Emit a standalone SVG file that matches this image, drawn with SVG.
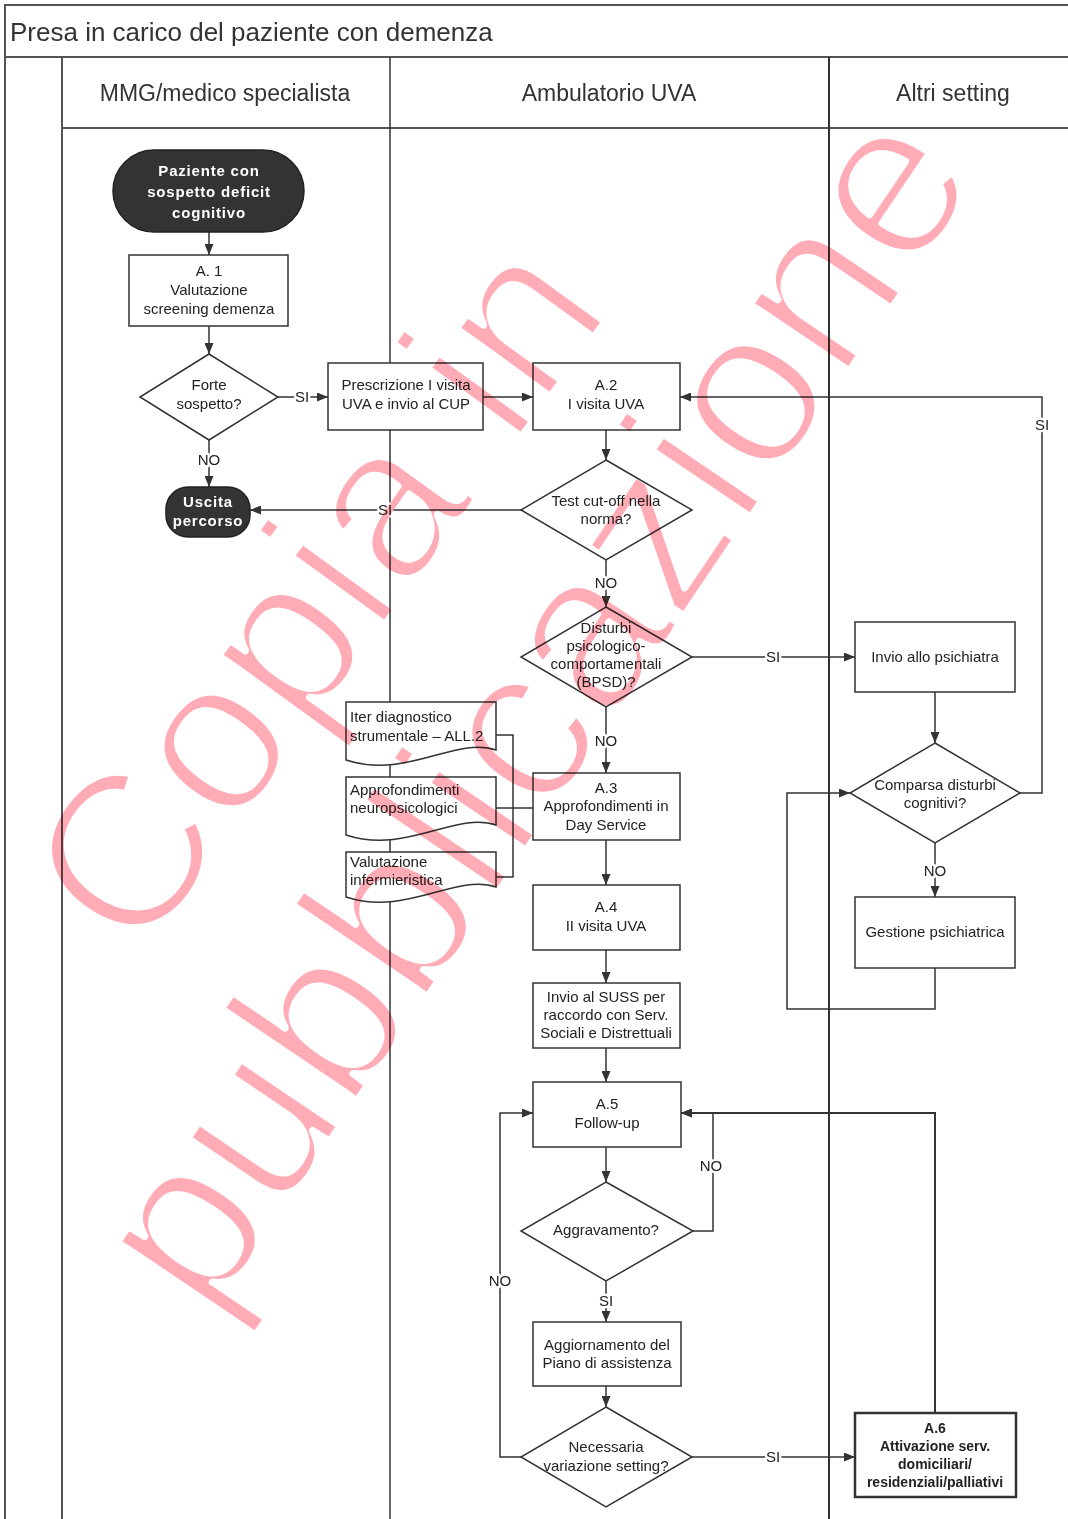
<svg xmlns="http://www.w3.org/2000/svg" width="1068" height="1519" viewBox="0 0 1068 1519">
<style>
text{font-family:"Liberation Sans",Arial,sans-serif;fill:#222}
.frame{fill:none;stroke:#555;stroke-width:2}
.box{fill:#fff;stroke:#333;stroke-width:1.5}
.term{fill:#333;stroke:#222;stroke-width:1.5}
.t{font-size:15px;text-anchor:middle}
.tl{font-size:15px}
.tw{font-size:15px;font-weight:bold;fill:#fff;text-anchor:middle;letter-spacing:0.8px}
.tb{font-size:14px;font-weight:bold;text-anchor:middle}
.hdr{font-size:23px;text-anchor:middle;fill:#333}
.line{fill:none;stroke:#333;stroke-width:1.5}
.arr{marker-end:url(#ah)}
.lbl{font-size:15px;text-anchor:middle;paint-order:stroke;stroke:#fff;stroke-width:5px;stroke-linejoin:round}
.wm{fill:#ffacb6;stroke:#fff;stroke-width:7px;stroke-linejoin:round;text-anchor:middle;mix-blend-mode:multiply}
</style>
<defs>
<marker id="ah" markerUnits="userSpaceOnUse" markerWidth="11" markerHeight="9" refX="11" refY="4.5" orient="auto">
<path d="M0,0 L11,4.5 L0,9 z" fill="#333"/>
</marker>
</defs>
<rect width="1068" height="1519" fill="#fff"/>
<g id="frame">
<rect class="frame" x="5" y="5" width="1075" height="52"/>
<text x="10" y="41" style="font-size:26px;fill:#333">Presa in carico del paziente con demenza</text>
<line class="frame" x1="5" y1="57" x2="5" y2="1519"/>
<line class="frame" x1="62" y1="57" x2="62" y2="1519"/>
<line class="frame" x1="62" y1="128" x2="1068" y2="128"/>
<line class="line" x1="390" y1="57" x2="390" y2="1519"/>
<line class="line" x1="829" y1="57" x2="829" y2="1519" style="stroke-width:2"/>
<text class="hdr" x="225" y="101">MMG/medico specialista</text>
<text class="hdr" x="609" y="101">Ambulatorio UVA</text>
<text class="hdr" x="953" y="101">Altri setting</text>
</g>
<g id="connectors">
<path class="line arr" d="M209,232 V255"/>
<path class="line arr" d="M209,326 V354"/>
<path class="line arr" d="M278,397 H328"/>
<path class="line arr" d="M209,440 V487"/>
<path class="line arr" d="M483,397 H533"/>
<path class="line arr" d="M606,430 V460"/>
<path class="line arr" d="M521,510 H250"/>
<path class="line arr" d="M606,560 V607"/>
<path class="line arr" d="M692,657 H855"/>
<path class="line arr" d="M935,692 V743"/>
<path class="line arr" d="M1020,793 H1042 V397 H680"/>
<path class="line arr" d="M935,843 V897"/>
<path class="line arr" d="M935,968 V1009 H787 V793 H850"/>
<path class="line arr" d="M606,707 V773"/>
<path class="line" d="M496,735 H513 V877 H496"/>
<path class="line" d="M496,808 H533"/>
<path class="line arr" d="M606,840 V885"/>
<path class="line arr" d="M606,950 V983"/>
<path class="line arr" d="M606,1048 V1082"/>
<path class="line arr" d="M606,1147 V1182"/>
<path class="line arr" d="M693,1231 H713 V1113 H681"/>
<path class="line arr" d="M606,1281 V1322"/>
<path class="line arr" d="M606,1386 V1407"/>
<path class="line arr" d="M521,1457 H500 V1113 H533"/>
<path class="line arr" d="M692,1457 H855"/>
<path class="line arr" d="M935,1413 V1113 H681" style="stroke-width:2"/>
<text class="lbl" x="302" y="402">SI</text>
<text class="lbl" x="209" y="465">NO</text>
<text class="lbl" x="385" y="515">SI</text>
<text class="lbl" x="606" y="588">NO</text>
<text class="lbl" x="773" y="662">SI</text>
<text class="lbl" x="1042" y="430">SI</text>
<text class="lbl" x="606" y="746">NO</text>
<text class="lbl" x="935" y="876">NO</text>
<text class="lbl" x="711" y="1171">NO</text>
<text class="lbl" x="606" y="1306">SI</text>
<text class="lbl" x="500" y="1286">NO</text>
<text class="lbl" x="773" y="1462">SI</text>
</g>
<g id="start">
<rect class="term" x="113" y="150" width="191" height="82" rx="41"/>
<text class="tw" x="209" y="176">Paziente con</text>
<text class="tw" x="209" y="197">sospetto deficit</text>
<text class="tw" x="209" y="218">cognitivo</text>
</g>
<g id="a1">
<rect class="box" x="129" y="255" width="159" height="71"/>
<text class="t" x="209" y="276">A. 1</text>
<text class="t" x="209" y="295">Valutazione</text>
<text class="t" x="209" y="314">screening demenza</text>
</g>
<g id="forte">
<polygon class="box" points="209,354 278,397 209,440 140,397"/>
<text class="t" x="209" y="390">Forte</text>
<text class="t" x="209" y="409">sospetto?</text>
</g>
<g id="prescrizione">
<rect class="box" x="328" y="363" width="155" height="67"/>
<text class="t" x="406" y="390">Prescrizione I visita</text>
<text class="t" x="406" y="409">UVA e invio al CUP</text>
</g>
<g id="a2">
<rect class="box" x="533" y="363" width="147" height="67"/>
<text class="t" x="606" y="390">A.2</text>
<text class="t" x="606" y="409">I visita UVA</text>
</g>
<g id="testcutoff">
<polygon class="box" points="606,460 692,510 606,560 521,510"/>
<text class="t" x="606" y="506">Test cut-off nella</text>
<text class="t" x="606" y="524">norma?</text>
</g>
<g id="uscita">
<rect class="term" x="166" y="487" width="84" height="50" rx="22"/>
<text class="tw" x="208" y="507">Uscita</text>
<text class="tw" x="208" y="526">percorso</text>
</g>
<g id="bpsd">
<polygon class="box" points="606,607 692,657 606,707 521,657"/>
<text class="t" x="606" y="633">Disturbi</text>
<text class="t" x="606" y="651">psicologico-</text>
<text class="t" x="606" y="669">comportamentali</text>
<text class="t" x="606" y="687">(BPSD)?</text>
</g>
<g id="psichiatra">
<rect class="box" x="855" y="622" width="160" height="70"/>
<text class="t" x="935" y="662">Invio allo psichiatra</text>
</g>
<g id="comparsa">
<polygon class="box" points="935,743 1020,793 935,843 850,793"/>
<text class="t" x="935" y="790">Comparsa disturbi</text>
<text class="t" x="935" y="808">cognitivi?</text>
</g>
<g id="gestione">
<rect class="box" x="855" y="897" width="160" height="71"/>
<text class="t" x="935" y="937">Gestione psichiatrica</text>
</g>
<g id="doc-iter">
<path class="box" d="M346,702 H496 V750 C456,736 406,780 346,760 Z"/>
<text class="tl" x="350" y="722">Iter diagnostico</text>
<text class="tl" x="350" y="741">strumentale  – ALL.2</text>
</g>
<g id="doc-neuro">
<path class="box" d="M346,777 H496 V825 C456,811 406,855 346,835 Z"/>
<text class="tl" x="350" y="795">Approfondimenti</text>
<text class="tl" x="350" y="813">neuropsicologici</text>
</g>
<g id="doc-inferm">
<path class="box" d="M346,852 H496 V887 C456,873 406,917 346,897 Z"/>
<text class="tl" x="350" y="867">Valutazione</text>
<text class="tl" x="350" y="885">infermieristica</text>
</g>
<g id="a3">
<rect class="box" x="533" y="773" width="147" height="67"/>
<text class="t" x="606" y="793">A.3</text>
<text class="t" x="606" y="811">Approfondimenti in</text>
<text class="t" x="606" y="830">Day Service</text>
</g>
<g id="a4">
<rect class="box" x="533" y="885" width="147" height="65"/>
<text class="t" x="606" y="912">A.4</text>
<text class="t" x="606" y="931">II visita UVA</text>
</g>
<g id="suss">
<rect class="box" x="533" y="983" width="147" height="65"/>
<text class="t" x="606" y="1002">Invio al SUSS per</text>
<text class="t" x="606" y="1020">raccordo con Serv.</text>
<text class="t" x="606" y="1038">Sociali e Distrettuali</text>
</g>
<g id="a5">
<rect class="box" x="533" y="1082" width="148" height="65"/>
<text class="t" x="607" y="1109">A.5</text>
<text class="t" x="607" y="1128">Follow-up</text>
</g>
<g id="aggravamento">
<polygon class="box" points="606,1182 693,1231 606,1281 521,1231"/>
<text class="t" x="606" y="1235">Aggravamento?</text>
</g>
<g id="aggiornamento">
<rect class="box" x="533" y="1322" width="148" height="64"/>
<text class="t" x="607" y="1350">Aggiornamento del</text>
<text class="t" x="607" y="1368">Piano di assistenza</text>
</g>
<g id="variazione">
<polygon class="box" points="606,1407 692,1457 606,1507 521,1457"/>
<text class="t" x="606" y="1452">Necessaria</text>
<text class="t" x="606" y="1471">variazione setting?</text>
</g>
<g id="a6">
<rect class="box" x="855" y="1413" width="161" height="84" style="stroke-width:2.5"/>
<text class="tb" x="935" y="1433">A.6</text>
<text class="tb" x="935" y="1451">Attivazione serv.</text>
<text class="tb" x="935" y="1469">domiciliari/</text>
<text class="tb" x="935" y="1487">residenziali/palliativi</text>
</g>
<g id="watermark">
<text class="wm" style="font-size:220px" transform="translate(326,600) rotate(-54)" x="0" y="62">Copia in</text>
<text class="wm" style="font-size:226px" transform="translate(545,715) rotate(-56)" x="0" y="60">pubblicazione</text>
</g>
</svg>
